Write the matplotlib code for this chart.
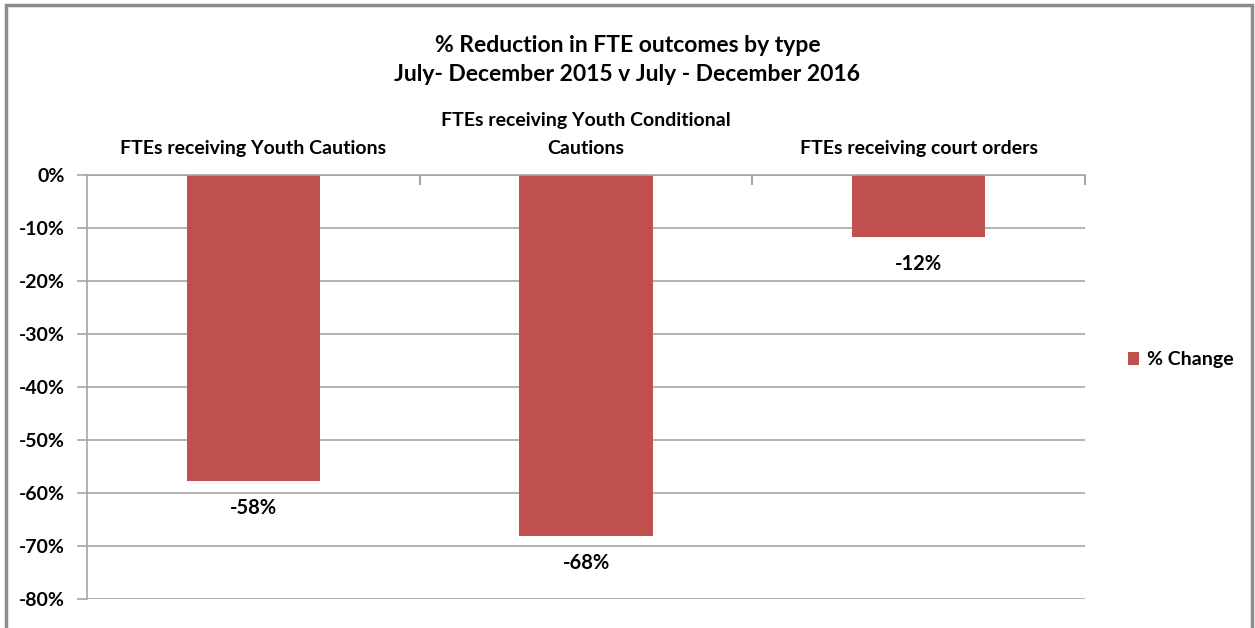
import matplotlib.pyplot as plt
from matplotlib.patches import Rectangle
from matplotlib.ticker import FuncFormatter, FixedLocator

categories = ["FTEs receiving Youth Cautions",
              "FTEs receiving Youth Conditional\nCautions",
              "FTEs receiving court orders"]
pct_change = [-57.7, -68.2, -11.7]
series_name = "% Change"
y_ticks = [0, -10, -20, -30, -40, -50, -60, -70, -80]

title = "% Reduction in FTE outcomes by type\nJuly- December 2015 v July - December 2016"

FONT = ["Lato", "DejaVu Sans"]
plt.rcParams['font.family'] = FONT
BAR = "#C0504D"
GRID = "#A6A6A6"

fig = plt.figure(figsize=(12.55, 6.28), dpi=100)
fig.patches.append(Rectangle((6/1255, -0.01), (1252-6)/1255, 1 - 5/628 + 0.01,
                             transform=fig.transFigure, fill=False,
                             edgecolor="#8C8C8C", linewidth=2.5, zorder=0))

ax = fig.add_axes([87/1255, 1 - 599/628, (1085-87)/1255, (599-175)/628])
x = list(range(len(categories)))
bars = ax.bar(x, pct_change, width=0.4, color=BAR, label=series_name, zorder=3)

ax.set_xlim(-0.5, len(categories) - 0.5)
ax.set_ylim(-80, 0)
ax.yaxis.set_major_locator(FixedLocator(y_ticks))
ax.yaxis.set_major_formatter(FuncFormatter(lambda v, p: f"{v:.0f}%"))
ax.grid(axis='y', color=GRID, linewidth=1.2, zorder=0)
ax.tick_params(axis='y', length=7, width=1.2, color=GRID, pad=9, labelsize=14)
for lab in ax.get_yticklabels():
    lab.set_fontweight('bold')

ax.xaxis.tick_top()
ax.set_xticks(x)
ax.set_xticklabels(categories, fontsize=14, fontweight='bold', linespacing=1.75)
ax.tick_params(axis='x', which='major', length=0, pad=13)
ax.set_xticks([0.5, 1.5, 2.5], minor=True)
ax.tick_params(axis='x', which='minor', direction='in', length=7, width=1.5,
               color=GRID, top=True, bottom=False)

for s in ['right', 'bottom']:
    ax.spines[s].set_visible(False)
for s in ['left', 'top']:
    ax.spines[s].set_color(GRID)
    ax.spines[s].set_linewidth(1.2)
ax.spines['top'].set_zorder(4)

for b, v in zip(bars, pct_change):
    ax.annotate(f"{v:.0f}%", (b.get_x() + b.get_width()/2, v),
                xytext=(0, -27), textcoords='offset pixels',
                ha='center', va='center', fontsize=14.5, fontweight='bold')

fig.text(0.5, 1 - 60/628, title, ha='center', va='center', fontsize=16.5,
         fontweight='bold', linespacing=1.5)

fig.legend(handles=[bars], labels=[series_name], loc='center left',
           bbox_to_anchor=(1110/1255, 1 - 360/628), frameon=False,
           prop={'weight': 'bold', 'size': 14, 'family': FONT},
           handlelength=0.6, handleheight=0.6, handletextpad=0.4)

fig.savefig("out.png", dpi=100)
